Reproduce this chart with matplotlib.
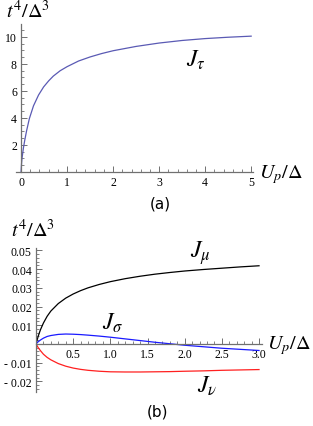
import matplotlib
matplotlib.use("Agg")
import matplotlib.pyplot as plt
from matplotlib.ticker import MultipleLocator, FixedLocator

plt.rcParams['mathtext.fontset'] = 'stix'
plt.rcParams['font.family'] = ['Liberation Serif', 'DejaVu Serif']

# ---- data panel (a) ----
up_a = [0, 0.01, 0.02, 0.05, 0.08, 0.12, 0.18, 0.27, 0.38, 0.49, 0.6, 0.7, 0.85, 1.0,
        1.25, 1.5, 1.75, 2.0, 2.5, 3.0, 3.5, 4.0, 4.5, 5.0]
j_tau = [0, 0.6, 1.0, 1.75, 2.35, 3.05, 3.95, 4.9, 5.7, 6.3, 6.75, 7.1, 7.5, 7.8,
         8.22, 8.52, 8.77, 8.98, 9.3, 9.55, 9.74, 9.88, 9.98, 10.06]

# ---- data panel (b) ----
up_b = [0, 0.03, 0.06, 0.1, 0.15, 0.2, 0.3, 0.4, 0.5, 0.6, 0.7, 0.85, 1.0, 1.2, 1.4,
        1.6, 1.8, 2.0, 2.25, 2.5, 2.75, 3.0]
j_mu = [0, 0.0042, 0.0076, 0.0112, 0.0148, 0.0176, 0.0216, 0.0245, 0.0267, 0.0285,
        0.0300, 0.0318, 0.0333, 0.0349, 0.0362, 0.0373, 0.0382, 0.0390, 0.0398,
        0.0405, 0.0412, 0.0418]
j_sigma = [0, 0.0012, 0.0021, 0.0031, 0.0040, 0.0045, 0.0051, 0.0053, 0.0052, 0.0050,
           0.0047, 0.0042, 0.0036, 0.0027, 0.0018, 0.0009, 0.0001, -0.0007, -0.0015,
           -0.0023, -0.0029, -0.0035]
j_nu = [0, -0.0020, -0.0036, -0.0055, -0.0072, -0.0085, -0.0105, -0.0119, -0.0129,
        -0.0136, -0.0141, -0.0146, -0.0149, -0.0150, -0.0150, -0.0149, -0.0148,
        -0.0146, -0.0144, -0.0141, -0.0139, -0.0137]

xt_a = [0, 1, 2, 3, 4, 5]
yt_a = [2, 4, 6, 8, 10]
xt_b = [0.5, 1.0, 1.5, 2.0, 2.5, 3.0]
yt_b = [-0.02, -0.01, 0.01, 0.02, 0.03, 0.04, 0.05]

W, H = 313, 427
fig = plt.figure(figsize=(W / 100, H / 100), dpi=100)

def px(x0, y0, x1, y1):
    return [x0 / W, 1 - y1 / H, (x1 - x0) / W, (y1 - y0) / H]

axis_col = '#707070'

def style(ax):
    for s in ['top', 'right']:
        ax.spines[s].set_visible(False)
    for s in ['left', 'bottom']:
        ax.spines[s].set_color(axis_col)
        ax.spines[s].set_linewidth(0.9)
    ax.tick_params(which='both', direction='in', colors=axis_col, labelcolor='black',
                   labelsize=8.5, pad=3)
    ax.tick_params(which='major', length=4, width=0.7)
    ax.tick_params(which='minor', length=2.3, width=0.6)

# panel (a)
ax1 = fig.add_axes(px(16, 25, 253, 173))
style(ax1)
ax1.plot(up_a, j_tau, color='#5a5ab4', lw=0.9)
ax1.set_xlim(-0.11, 5.04)
ax1.set_ylim(0, 10.96)
ax1.spines['left'].set_position(('data', 0))
ax1.xaxis.set_major_locator(FixedLocator(xt_a))
ax1.xaxis.set_minor_locator(MultipleLocator(0.2))
ax1.yaxis.set_major_locator(FixedLocator(yt_a))
ax1.yaxis.set_minor_locator(MultipleLocator(0.5))
ax1.set_xticklabels([str(v) for v in xt_a])
ax1.set_yticklabels([str(v) for v in yt_a])

# panel (b)
ax2 = fig.add_axes(px(36, 249, 262, 393))
style(ax2)
ax2.plot(up_b, j_mu, color='black', lw=0.9)
ax2.plot(up_b, j_sigma, color='#1a1aff', lw=0.9)
ax2.plot(up_b, j_nu, color='#ff2020', lw=0.9)
ax2.set_xlim(0, 3.04)
ax2.set_ylim(-0.0257, 0.0513)
ax2.spines['bottom'].set_position(('data', 0))
ax2.xaxis.set_major_locator(FixedLocator(xt_b))
ax2.xaxis.set_minor_locator(MultipleLocator(0.1))
ax2.yaxis.set_major_locator(FixedLocator(yt_b))
ax2.yaxis.set_minor_locator(MultipleLocator(0.002))
ax2.set_xticklabels(['%.1f' % v for v in xt_b])
ax2.set_yticklabels([('- %.2f' % -v) if v < 0 else '%.2f' % v for v in yt_b])

def ftext(x, y, s, size, **kw):
    fig.text(x / W, 1 - y / H, s, fontsize=size, ha='center', va='center', **kw)

ftext(28, 12, r'$t^4/\Delta^3$', 14.5)
ftext(281, 175, r'$U_p/\Delta$', 14.5)
ftext(196, 60, r'$J_\tau$', 17)
ftext(160, 204, '(a)', 11, family='DejaVu Sans')

ftext(33, 231, r'$t^4/\Delta^3$', 14.5)
ftext(289, 346, r'$U_p/\Delta$', 14.5)
ftext(200, 253, r'$J_\mu$', 17)
ftext(113, 323, r'$J_\sigma$', 17)
ftext(207, 386, r'$J_\nu$', 17)
ftext(157, 412, '(b)', 11, family='DejaVu Sans')

fig.savefig('out.png', dpi=100)
